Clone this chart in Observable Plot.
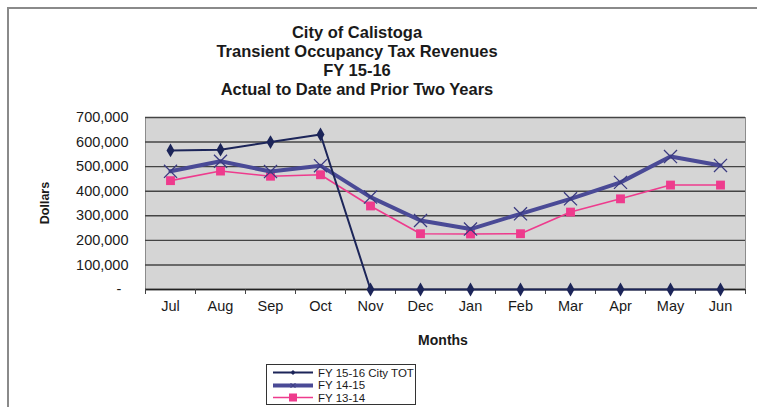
<!DOCTYPE html>
<html>
<head>
<meta charset="utf-8">
<script src="https://cdn.jsdelivr.net/npm/d3@7"></script>
<script src="https://cdn.jsdelivr.net/npm/@observablehq/plot@0.6"></script>
<style>
  html, body { margin: 0; padding: 0; background: #fff; }
  #wrap { position: relative; width: 757px; height: 407px; overflow: hidden; font-family: "Liberation Sans", Arial, sans-serif; color: #1a1a1a; }
  #frame { position: absolute; left: 7px; top: 7px; width: 760px; height: 410px; border-left: 2px solid #8a8a8a; border-top: 2px solid #8a8a8a; }
  #title { position: absolute; left: 137px; width: 440px; top: 23px; text-align: center; font-weight: bold; font-size: 16.5px; line-height: 19px; }
  #ylab { position: absolute; left: 45px; top: 203px; transform: translate(-50%, -50%) rotate(-90deg); font-weight: bold; font-size: 12.5px; white-space: nowrap; }
  #xlab { position: absolute; left: 443px; top: 340px; transform: translate(-50%, -50%); font-weight: bold; font-size: 14px; }
  #legend { position: absolute; left: 266px; top: 364px; width: 150px; height: 41px; border: 1.5px solid #333; background: #fff; box-sizing: border-box; }
  .lrow { position: absolute; left: 6px; height: 13px; display: flex; align-items: center; font-size: 11.5px; }
  .lrow svg { margin-right: 3px; }
  #chart { position: absolute; left: 0; top: 0; }
</style>
</head>
<body>
<div id="wrap">
  <div id="frame"></div>
  <div id="chart"></div>
  <div id="title">City of Calistoga<br>Transient Occupancy Tax Revenues<br>FY 15-16<br>Actual to Date and Prior Two Years</div>
  <div id="ylab">Dollars</div>
  <div id="xlab">Months</div>
  <div id="legend"></div>
</div>
<script>
const months = ["Jul", "Aug", "Sep", "Oct", "Nov", "Dec", "Jan", "Feb", "Mar", "Apr", "May", "Jun"];
const fy1516 = [566000, 569000, 600000, 631000, 0, 0, 0, 0, 0, 0, 0, 0];
const fy1415 = [481000, 522000, 480000, 504000, 376000, 281000, 246000, 308000, 369000, 436000, 541000, 505000];
const fy1314 = [443000, 482000, 461000, 467000, 340000, 227000, 226000, 227000, 315000, 369000, 425000, 425000];
const seriesNames = ["FY 15-16 City TOT", "FY 14-15", "FY 13-14"];
const yTicks = [0, 100000, 200000, 300000, 400000, 500000, 600000, 700000];

const colors = {"FY 15-16 City TOT": "#1c2559", "FY 14-15": "#4a4a96", "FY 13-14": "#ee3b8d"};

const rows = (vals, name) => months.map((m, i) => ({month: m, value: vals[i], series: name}));
const d1516 = rows(fy1516, seriesNames[0]);
const d1415 = rows(fy1415, seriesNames[1]);
const d1314 = rows(fy1314, seriesNames[2]);

const fmt = d3.format(",");

const chart = Plot.plot({
  width: 757,
  height: 407,
  marginLeft: 145,
  marginRight: 12,
  marginTop: 117,
  marginBottom: 118,
  style: {fontFamily: "'Liberation Sans', Arial, sans-serif", fontSize: "14.5px", color: "#1a1a1a", background: "transparent"},
  x: {type: "point", domain: months, padding: 0.5, tickSize: 0, tickPadding: 11, label: null},
  y: {domain: [0, 700000], ticks: yTicks, tickSize: 0, tickPadding: 17, label: null,
      tickFormat: d => d === 0 ? "-\u2002" : fmt(d)},
  marks: [
    Plot.frame({fill: "#d5d5d5", stroke: "#8c8c8c"}),
    Plot.ruleY(yTicks, {stroke: "#444", strokeWidth: 1.4}),
    Plot.ruleY([0], {stroke: "#222", strokeWidth: 1.6}),
    Plot.ruleX(months, {x: d => d, y1: 0, y2: 0, dx: -25, insetBottom: -5, stroke: "#444"}),
    Plot.ruleX(months, {x: d => d, y1: 0, y2: 0, dx: 25, insetBottom: -5, stroke: "#444"}),
    // FY 13-14
    Plot.line(d1314, {x: "month", y: "value", stroke: colors["FY 13-14"], strokeWidth: 1.6}),
    Plot.dot(d1314, {x: "month", y: "value", symbol: "square", r: 5, fill: colors["FY 13-14"]}),
    // FY 14-15
    Plot.line(d1415, {x: "month", y: "value", stroke: colors["FY 14-15"], strokeWidth: 4}),
    Plot.dot(d1415, {x: "month", y: "value", symbol: "times", r: 6, stroke: "#3a3a80", strokeWidth: 1.3}),
    // FY 15-16
    Plot.line(d1516, {x: "month", y: "value", stroke: colors["FY 15-16 City TOT"], strokeWidth: 2}),
    Plot.dot(d1516, {x: "month", y: "value", symbol: "diamond", r: 4.2, fill: colors["FY 15-16 City TOT"]})
  ]
});
document.getElementById("chart").appendChild(chart);

// Legend
const legend = document.getElementById("legend");
const legendStyles = [
  {name: seriesNames[0], w: 2, marker: "diamond", mr: 2.5},
  {name: seriesNames[1], w: 4, marker: "times", mr: 2.5},
  {name: seriesNames[2], w: 1.6, marker: "square", mr: 4}
];
legendStyles.forEach((s, i) => {
  const row = document.createElement("div");
  row.className = "lrow";
  row.style.top = (1 + i * 12.5) + "px";
  const c = colors[s.name];
  let m = "";
  if (s.marker === "diamond") m = `<path d="M20,${6.5 - s.mr}L${20 + s.mr},6.5L20,${6.5 + s.mr}L${20 - s.mr},6.5Z" fill="${c}"/>`;
  if (s.marker === "square") m = `<rect x="${20 - s.mr}" y="${6.5 - s.mr}" width="${2 * s.mr}" height="${2 * s.mr}" fill="${c}"/>`;
  if (s.marker === "times") m = `<path d="M${20 - s.mr},${6.5 - s.mr}L${20 + s.mr},${6.5 + s.mr}M${20 + s.mr},${6.5 - s.mr}L${20 - s.mr},${6.5 + s.mr}" stroke="#3a3a80" stroke-width="1"/>`;
  row.innerHTML = `<svg width="42" height="13"><line x1="0" x2="40" y1="6.5" y2="6.5" stroke="${c}" stroke-width="${s.w}"/>${m}</svg><span>${s.name}</span>`;
  legend.appendChild(row);
});
</script>
</body>
</html>
